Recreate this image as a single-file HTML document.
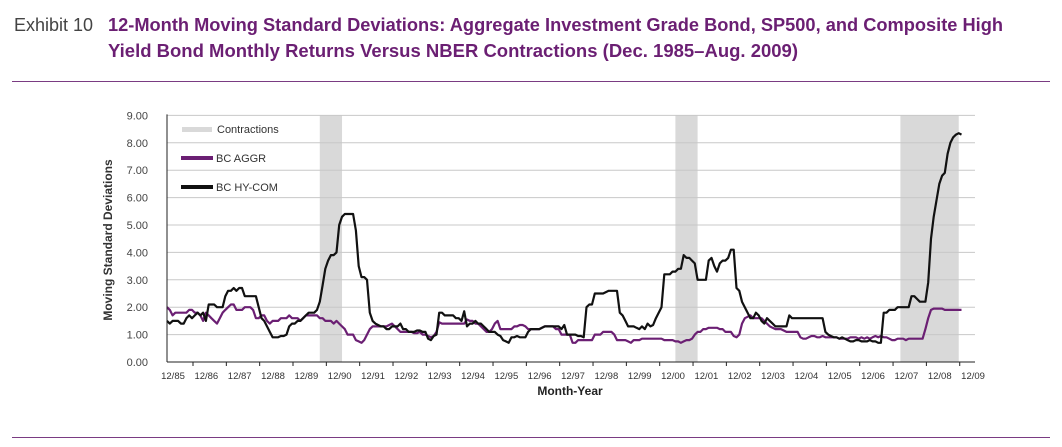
<!DOCTYPE html>
<html><head><meta charset="utf-8"><style>
body{margin:0;background:#fff;}
svg{display:block;font-family:"Liberation Sans",sans-serif;}
</style></head><body>
<svg id="chart" width="1062" height="447" viewBox="0 0 1062 447">
<text x="14" y="31" font-size="18" fill="#444">Exhibit 10</text>
<text x="108" y="31" font-size="18" font-weight="bold" fill="#6b1f73" textLength="895" lengthAdjust="spacingAndGlyphs">12-Month Moving Standard Deviations: Aggregate Investment Grade Bond, SP500, and Composite High</text>
<text x="108" y="57" font-size="18" font-weight="bold" fill="#6b1f73" textLength="690" lengthAdjust="spacingAndGlyphs">Yield Bond Monthly Returns Versus NBER Contractions (Dec. 1985–Aug. 2009)</text>
<line x1="12" y1="81.5" x2="1050" y2="81.5" stroke="#7a3b82" stroke-width="1"/>
<line x1="12" y1="437.5" x2="1050" y2="437.5" stroke="#7a3b82" stroke-width="1"/>
<g id="shades"></g>
<g id="grid"></g>
<g id="series"></g>
<g id="axes"></g>
<g id="legend">
<rect x="182" y="127" width="30" height="5" fill="#d9d9d9"/>
<text x="217" y="133" font-size="11" fill="#333">Contractions</text>
<rect x="181" y="156" width="32" height="4" fill="#6b1f73"/>
<text x="216" y="162" font-size="11" fill="#333">BC AGGR</text>
<rect x="181" y="185" width="32" height="4" fill="#111"/>
<text x="216" y="191" font-size="11" fill="#333">BC HY-COM</text>
</g>
<text transform="translate(112,240) rotate(-90)" text-anchor="middle" font-size="12" font-weight="bold" fill="#333">Moving Standard Deviations</text>
<text x="570" y="395" text-anchor="middle" font-size="12" font-weight="bold" fill="#222">Month-Year</text>
</svg>
<script>
const yTicks = [0,1,2,3,4,5,6,7,8,9];
const xLabels = ["12/85","12/86","12/87","12/88","12/89","12/90","12/91","12/92","12/93","12/94","12/95","12/96","12/97","12/98","12/99","12/00","12/01","12/02","12/03","12/04","12/05","12/06","12/07","12/08","12/09"];
const contractions = [[55,63],[183,191],[264,285]];
const hyCom = [
1.5,1.4,1.5,1.5,1.5,1.4,1.4,1.6,1.7,1.6,1.7,1.8,
1.7,1.8,1.5,2.1,2.1,2.1,2.0,2.0,2.0,2.4,2.6,2.6,
2.7,2.6,2.7,2.7,2.4,2.4,2.4,2.4,2.4,2.0,1.6,1.5,
1.3,1.1,0.9,0.9,0.9,0.95,0.95,1.0,1.3,1.4,1.4,1.5,
1.5,1.6,1.7,1.8,1.8,1.8,1.9,2.2,2.8,3.4,3.7,3.9,
3.9,4.0,5.0,5.3,5.4,5.4,5.4,5.4,4.8,3.5,3.1,3.1,
3.0,1.8,1.5,1.4,1.35,1.3,1.3,1.2,1.2,1.3,1.3,1.3,
1.4,1.2,1.2,1.1,1.1,1.1,1.15,1.15,1.1,1.1,0.85,0.8,
0.95,1.0,1.8,1.8,1.7,1.7,1.7,1.7,1.6,1.6,1.5,1.85,
1.3,1.4,1.4,1.5,1.4,1.4,1.3,1.2,1.1,1.1,1.1,1.0,
0.95,0.8,0.75,0.7,0.9,0.9,0.95,0.9,0.9,0.9,1.1,1.2,
1.2,1.2,1.2,1.25,1.3,1.3,1.3,1.3,1.3,1.3,1.2,1.35,
1.0,1.0,1.0,1.0,0.95,0.95,0.9,2.0,2.1,2.1,2.5,2.5,
2.5,2.5,2.55,2.6,2.6,2.6,2.6,1.8,1.7,1.5,1.3,1.3,
1.3,1.25,1.2,1.3,1.2,1.4,1.3,1.35,1.6,1.8,2.0,3.2,
3.2,3.2,3.3,3.3,3.4,3.4,3.9,3.8,3.8,3.7,3.6,3.0,
3.0,3.0,3.0,3.7,3.8,3.5,3.3,3.6,3.7,3.7,3.8,4.1,
4.1,2.7,2.6,2.2,2.0,1.8,1.6,1.6,1.8,1.7,1.5,1.4,
1.6,1.5,1.4,1.3,1.3,1.3,1.3,1.3,1.7,1.6,1.6,1.6,
1.6,1.6,1.6,1.6,1.6,1.6,1.6,1.6,1.6,1.1,1.0,0.95,
0.9,0.9,0.85,0.9,0.85,0.8,0.75,0.75,0.8,0.8,0.75,0.75,
0.75,0.8,0.75,0.75,0.7,0.7,1.8,1.8,1.9,1.9,1.9,2.0,
2.0,2.0,2.0,2.0,2.4,2.4,2.3,2.2,2.2,2.2,2.9,4.5,
5.3,5.9,6.5,6.8,6.9,7.6,8.0,8.2,8.3,8.35,8.3];
const bcAggr = [
2.0,1.9,1.7,1.8,1.8,1.8,1.8,1.8,1.9,1.9,1.8,1.8,
1.7,1.5,1.8,1.7,1.6,1.5,1.4,1.6,1.8,1.9,2.0,2.1,
2.1,1.9,1.9,1.9,2.0,2.0,2.0,1.9,1.6,1.6,1.7,1.7,
1.5,1.4,1.5,1.5,1.5,1.6,1.6,1.6,1.7,1.6,1.6,1.6,
1.5,1.6,1.7,1.7,1.7,1.7,1.7,1.6,1.6,1.5,1.5,1.5,
1.4,1.5,1.4,1.3,1.2,1.0,1.0,1.0,0.8,0.75,0.7,0.8,
1.0,1.2,1.3,1.3,1.3,1.3,1.3,1.3,1.35,1.4,1.3,1.2,
1.1,1.1,1.1,1.1,1.1,1.05,1.05,1.1,1.0,1.0,0.95,0.9,
0.95,1.1,1.45,1.4,1.4,1.4,1.4,1.4,1.4,1.4,1.4,1.4,
1.55,1.5,1.5,1.4,1.4,1.3,1.2,1.1,1.1,1.2,1.4,1.5,
1.2,1.2,1.2,1.2,1.2,1.3,1.3,1.35,1.35,1.3,1.2,1.2,
1.2,1.2,1.2,1.25,1.3,1.3,1.3,1.3,1.2,1.2,1.0,1.0,
1.0,1.0,0.7,0.7,0.8,0.8,0.8,0.8,0.8,0.8,1.0,1.0,
1.0,1.1,1.1,1.1,1.1,1.0,0.8,0.8,0.8,0.8,0.75,0.7,
0.8,0.8,0.8,0.85,0.85,0.85,0.85,0.85,0.85,0.85,0.85,0.8,
0.8,0.8,0.8,0.75,0.75,0.7,0.75,0.8,0.8,0.85,1.0,1.1,
1.1,1.2,1.2,1.25,1.25,1.25,1.25,1.2,1.2,1.1,1.1,1.1,
0.95,0.9,1.0,1.4,1.6,1.65,1.7,1.6,1.6,1.6,1.6,1.5,
1.4,1.3,1.25,1.2,1.2,1.2,1.15,1.1,1.1,1.1,1.1,1.1,
0.9,0.85,0.85,0.9,0.95,0.95,0.9,0.9,0.95,0.9,0.9,0.9,
0.9,0.9,0.85,0.85,0.85,0.85,0.9,0.9,0.9,0.85,0.9,0.85,
0.9,0.85,0.9,0.95,0.9,0.95,0.9,0.9,0.85,0.8,0.8,0.85,
0.85,0.85,0.8,0.85,0.85,0.85,0.85,0.85,0.85,1.2,1.6,1.9,
1.95,1.95,1.95,1.95,1.9,1.9,1.9,1.9,1.9,1.9,1.9];

const NS = "http://www.w3.org/2000/svg";
const X0 = 167, MONTH = 2.778, Y0 = 362, UNIT = 27.4, XR = 975;
function xScale(i){ return X0 + i*MONTH; }
function yScale(v){ return Y0 - v*UNIT; }
function mk(tag, attrs, parent){ const e=document.createElementNS(NS,tag); for(const k in attrs) e.setAttribute(k,attrs[k]); parent.appendChild(e); return e; }

const shades=document.getElementById('shades');
contractions.forEach(c=>{
  const r=mk('rect',{x:xScale(c[0]),y:yScale(9),width:xScale(c[1])-xScale(c[0]),height:yScale(0)-yScale(9),fill:'#d9d9d9'},shades);
  
  
});
const grid=document.getElementById('grid');
const axes=document.getElementById('axes');
yTicks.forEach(t=>{
  if(t>0){
    const g=mk('line',{x1:X0,x2:XR,y1:yScale(t),y2:yScale(t),stroke:'#c8c8c8','stroke-width':1},grid);
    
    
  }
  const l=mk('text',{x:148,y:yScale(t)+4,'text-anchor':'end','font-size':11,fill:'#444'},axes);
  l.textContent=t.toFixed(2);
  
  
});
const ya=mk('line',{x1:X0,x2:X0,y1:yScale(9)-1,y2:Y0,stroke:'#222','stroke-width':1},axes);


const xa=mk('line',{x1:X0,x2:XR,y1:Y0,y2:Y0,stroke:'#222','stroke-width':1},axes);


xLabels.forEach((lab,k)=>{
  const cx=xScale(k*12)+6;
  const t=mk('text',{x:cx,y:379,'text-anchor':'middle','font-size':9.5,fill:'#333'},axes);
  t.textContent=lab;
  
  
  if(k<xLabels.length-1){
    const tk=mk('line',{x1:cx+20,x2:cx+20,y1:Y0,y2:Y0+4,stroke:'#222'},axes);
    
    
  }
});
const series=document.getElementById('series');
function line(data,color,name){
  const pts=data.map((v,i)=>xScale(i).toFixed(1)+','+yScale(v).toFixed(1)).join(' ');
  const p=mk('polyline',{points:pts,fill:'none',stroke:color,'stroke-width':2.2,'stroke-linejoin':'round'},series);
  
  
}
line(bcAggr,'#6b1f73','series-bc-aggr');
line(hyCom,'#111','series-bc-hy-com');
</script>
</body></html>
